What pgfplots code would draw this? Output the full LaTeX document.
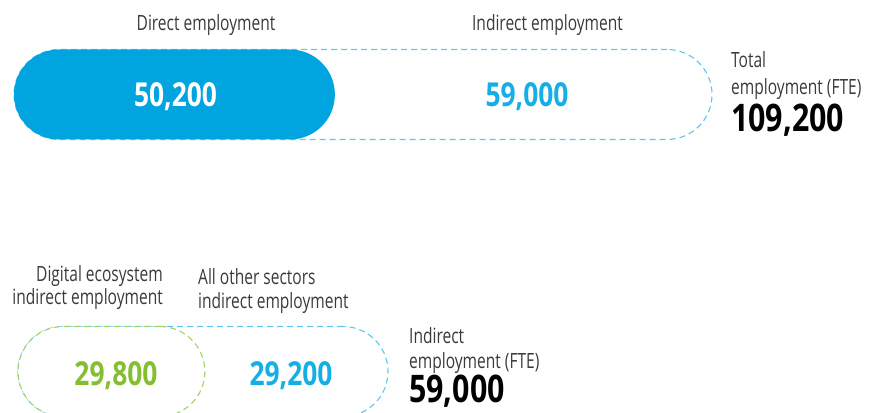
\documentclass[border=0pt]{standalone}
\usepackage{pgfplots}
\pgfplotsset{compat=1.18}
\usepackage{fontspec}
\setmainfont[FakeStretch=0.74,BoldFeatures={FakeStretch=0.8}]{Open Sans}
\definecolor{solidblue}{HTML}{00A5E0}
\definecolor{dashblue}{HTML}{5CC6EE}
\definecolor{txtblue}{HTML}{15AEE6}
\definecolor{dashgreen}{HTML}{A5D06A}
\definecolor{txtgreen}{HTML}{86BE32}
\definecolor{lbl}{HTML}{3A3A3A}
\newcommand{\lblfont}{\fontsize{21}{25}\selectfont\color{lbl}}
\newcommand{\numfont}{\fontsize{33}{36}\selectfont\bfseries}
\newcommand{\bigfont}{\fontsize{38}{40}\selectfont\bfseries}
\begin{document}
\begin{tikzpicture}[x=1pt,y=1pt]
\useasboundingbox (0,0) rectangle (882,412);
% top row: 1 px = 109200/698 units, origin at px 14
\begin{axis}[at={(0,0)},anchor=south west,hide axis,scale only axis,
  width=882pt,height=412pt,
  xmin=-2190.3,xmax=135795.6,ymin=0,ymax=412,y dir=reverse,clip=true]
\addplot[xbar,bar shift=0pt,bar width=90pt,draw=dashblue,line width=1.1pt,
  dash pattern=on 6pt off 4pt,fill=none,rounded corners=45pt]
  coordinates {(109200,94.5)};
\addplot[xbar,bar shift=0pt,bar width=90pt,draw=none,fill=solidblue,rounded corners=45pt]
  coordinates {(50200,94.5)};
\end{axis}
% bottom row: 1 px = 59000/370 units, origin at px 18
\begin{axis}[at={(0,0)},anchor=south west,hide axis,scale only axis,
  width=882pt,height=412pt,
  xmin=-2870.3,xmax=137773.0,ymin=0,ymax=412,y dir=reverse,clip=true]
\addplot[xbar,bar shift=0pt,bar width=90pt,draw=dashblue,line width=1.1pt,
  dash pattern=on 6pt off 4pt,fill=none,rounded corners=45pt]
  coordinates {(59000,371.5)};
\addplot[xbar,bar shift=0pt,bar width=90pt,draw=dashgreen,line width=1.1pt,
  dash pattern=on 6pt off 4pt,fill=white,rounded corners=45pt]
  coordinates {(29800,371.5)};
\end{axis}
\begin{scope}[every node/.style={inner sep=0pt}]
% top labels
\node[anchor=base] at (206,381) {\lblfont Direct employment};
\node[anchor=base] at (547.5,381) {\lblfont Indirect employment};
\node[anchor=base] at (175.5,305) {\numfont\color{white}50,200};
\node[anchor=base] at (527,305) {\numfont\color{txtblue}59,000};
\node[anchor=base west] at (731,344) {\lblfont Total};
\node[anchor=base west] at (731,317) {\lblfont employment (FTE)};
\node[anchor=base west] at (731,280) {\bigfont\color{black}109,200};
% bottom labels
\node[anchor=base east] at (163,130) {\lblfont Digital ecosystem};
\node[anchor=base east] at (163,107) {\lblfont indirect employment};
\node[anchor=base west] at (198,127) {\lblfont All other sectors};
\node[anchor=base west] at (198,103) {\lblfont indirect employment};
\node[anchor=base] at (116,27) {\numfont\color{txtgreen}29,800};
\node[anchor=base] at (291,27) {\numfont\color{txtblue}29,200};
\node[anchor=base west] at (409,69) {\lblfont Indirect};
\node[anchor=base west] at (409,44) {\lblfont employment (FTE)};
\node[anchor=base west] at (409,10) {\bigfont\color{black}59,000};
\end{scope}
\end{tikzpicture}
\end{document}
